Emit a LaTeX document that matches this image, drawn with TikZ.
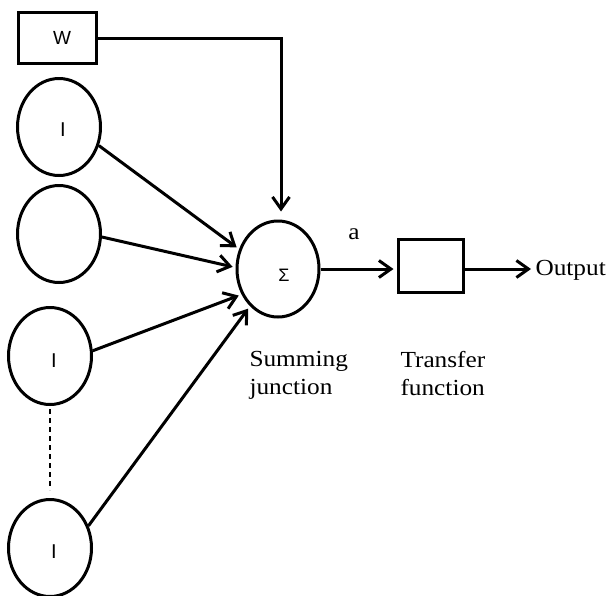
\documentclass[tikz,border=0pt]{standalone}
\usepackage{fontspec}
\setmainfont{Liberation Serif}[FakeStretch=1.1]
\newfontfamily\labelsans{Liberation Sans}
\usetikzlibrary{arrows.meta,shapes.geometric}
% letter set off-centre inside its shape: #1 right, #2 down, #3 the letter
\newcommand{\shiftedletter}[3]{\hspace*{#1}\raisebox{-#2}[\height][\depth]{#3}}
\begin{document}
\begin{tikzpicture}[x=1pt,y=-1pt,line width=3pt,
  inputunit/.style={draw,ellipse,inner sep=0pt,minimum width=83pt,minimum height=97pt,
    font=\labelsans\fontsize{20}{20}\selectfont},
  box/.style={draw,rectangle,inner sep=0pt,font=\labelsans\fontsize{19}{19}\selectfont},
  link/.style={-{Straight Barb[length=12pt,width=17pt]},shorten >=3pt},
  caption/.style={align=left,anchor=north west,inner sep=0pt,font=\fontsize{23}{28}\selectfont}]
\useasboundingbox (0,0) rectangle (609,595);

% weight box and input units
\node[box,minimum width=78pt,minimum height=51pt] (w) at (57,38) {\shiftedletter{10pt}{0pt}{W}};
\node[inputunit] (i1) at (59,127) {\shiftedletter{8pt}{3pt}{I}};
\node[inputunit] (i2) at (59,234) {};
\node[inputunit] (i3) at (50,356) {\shiftedletter{8pt}{5pt}{I}};
\node[inputunit] (i4) at (50,548) {\shiftedletter{8pt}{4pt}{I}};

% summing junction and transfer function
\node[inputunit,minimum width=82pt,minimum height=96pt,font=\labelsans\fontsize{18}{18}\selectfont]
  (sum) at (278,269) {\shiftedletter{12pt}{6pt}{Σ}};
\node[box,minimum width=65pt,minimum height=53pt] (tf) at (430.5,265.5) {};
\node[anchor=west,inner sep=0pt,font=\fontsize{23}{23}\selectfont] (out) at (534,270) {Output};
\node[inner sep=0pt,font=\fontsize{23}{23}\selectfont] (a) at (354,234) {a};
\node[caption] (sj) at (248,350) {Summing\\junction};
\node[caption] (tfl) at (399,350) {Transfer\\function};

% connections
\draw[link,shorten >=8pt] (w.east) -| ([xshift=3pt]sum.north);
\draw[link] (i1.-25) -- (sum.153);
\draw[link] (i2.-4) -- (sum.178);
\draw[link] (i3.7) -- (sum.215);
\draw[link] (i4.30) -- (sum.233);
\draw[link] (sum.east) -- (sum.east -| tf.west);
\draw[link] (tf.east |- sum.east) -- (out.west |- sum.east);
\draw[line width=1.8pt,dash pattern=on 5pt off 4pt,shorten <=3pt,shorten >=8pt] (i3.south) -- (i4.north);
\end{tikzpicture}
\end{document}
